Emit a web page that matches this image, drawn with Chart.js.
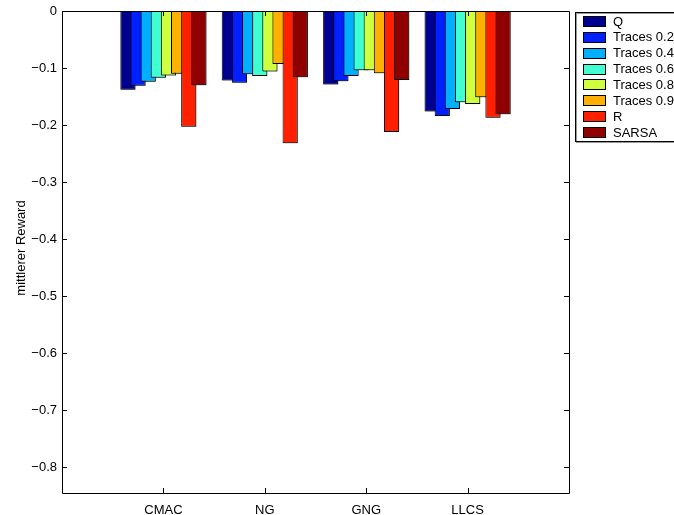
<!DOCTYPE html>
<html>
<head>
<meta charset="utf-8">
<script src="https://cdn.jsdelivr.net/npm/chart.js@4/dist/chart.umd.min.js"></script>
<style>
  html, body { margin: 0; padding: 0; background: #fff; overflow: hidden; }
  #chart { display: block; }
</style>
</head>
<body>
<canvas id="chart" width="674" height="515" style="width:674px;height:515px"></canvas>
<script>
const categories = ['CMAC', 'NG', 'GNG', 'LLCS'];
const seriesNames = ['Q', 'Traces 0.2', 'Traces 0.4', 'Traces 0.6', 'Traces 0.8', 'Traces 0.9', 'R', 'SARSA'];
const seriesColors = ['#000090', '#0020ff', '#00b0ff', '#40ffd0', '#d0ff40', '#ffb000', '#ff2000', '#900000'];

const qValues       = [-0.138, -0.122, -0.129, -0.176];
const traces02      = [-0.131, -0.126, -0.123, -0.184];
const traces04      = [-0.124, -0.111, -0.114, -0.172];
const traces06      = [-0.117, -0.114, -0.104, -0.160];
const traces08      = [-0.113, -0.106, -0.104, -0.163];
const traces09      = [-0.110, -0.093, -0.109, -0.151];
const rValues       = [-0.203, -0.232, -0.212, -0.187];
const sarsaValues   = [-0.130, -0.116, -0.121, -0.181];

const yTicks = [0, -0.1, -0.2, -0.3, -0.4, -0.5, -0.6, -0.7, -0.8];
const yMin = -0.845;
const yTitle = 'mittlerer Reward';

const allSeries = [qValues, traces02, traces04, traces06, traces08, traces09, rValues, sarsaValues];

// x range runs 0..5 in the original, categories sit at 1..4
const labels = [''].concat(categories, ['']);

const datasets = allSeries.map((vals, i) => ({
  label: seriesNames[i],
  data: [null].concat(vals, [null]),
  backgroundColor: seriesColors[i],
  borderColor: '#000',
  borderWidth: 1,
  borderSkipped: false,
  categoryPercentage: 0.8,
  barPercentage: 1.5
}));

const font = "'Liberation Sans', Arial, Helvetica, sans-serif";

// matlab style frame: box, inward ticks, clipped legend
const matlabFrame = {
  id: 'matlabFrame',
  beforeDatasetsDraw(chart) {
    // draw first series first so later bars overlap earlier ones
    const ctx = chart.ctx;
    const a = chart.chartArea;
    ctx.save();
    ctx.beginPath();
    ctx.rect(a.left, a.top, a.right - a.left, a.bottom - a.top);
    ctx.clip();
    ctx.shadowColor = 'rgba(0,0,0,0.35)';
    ctx.shadowOffsetX = 1;
    ctx.shadowOffsetY = 1;
    chart.getSortedVisibleDatasetMetas().forEach(meta => meta.controller.draw());
    ctx.restore();
    return false;
  },
  afterDraw(chart) {
    const ctx = chart.ctx;
    const a = chart.chartArea;
    const x = chart.scales.x, y = chart.scales.y;
    ctx.save();
    ctx.strokeStyle = '#000';
    ctx.lineWidth = 1;
    ctx.beginPath();
    ctx.rect(Math.round(a.left) + 0.5, Math.round(a.top) + 0.5, Math.round(a.right - a.left), Math.round(a.bottom - a.top));
    ctx.stroke();
    const tl = 5;
    ctx.beginPath();
    yTicks.forEach(v => {
      const py = Math.round(y.getPixelForValue(v)) + 0.5;
      ctx.moveTo(a.left, py); ctx.lineTo(a.left + tl, py);
      ctx.moveTo(a.right, py); ctx.lineTo(a.right - tl, py);
    });
    categories.forEach((c, i) => {
      const px = Math.round(x.getPixelForValue(i + 1)) + 0.5;
      ctx.moveTo(px, a.bottom); ctx.lineTo(px, a.bottom - tl);
      ctx.moveTo(px, a.top); ctx.lineTo(px, a.top + tl);
    });
    ctx.stroke();

    // y axis title
    ctx.save();
    ctx.fillStyle = '#000';
    ctx.font = '13px ' + font;
    ctx.textAlign = 'center';
    ctx.textBaseline = 'alphabetic';
    ctx.translate(25, 248);
    ctx.rotate(-Math.PI / 2);
    ctx.fillText(yTitle, 0, 0);
    ctx.restore();

    // legend
    const lx = 575, ly = 12, rowH = 15.85;
    ctx.fillStyle = '#fff';
    ctx.fillRect(lx, ly, 110, 130);
    ctx.shadowColor = 'rgba(0,0,0,0.4)';
    ctx.shadowOffsetX = 1;
    ctx.shadowOffsetY = 1;
    ctx.strokeRect(lx + 0.5, ly + 0.5, 110, 129);
    ctx.shadowColor = 'transparent';
    ctx.font = '13px ' + font;
    ctx.textBaseline = 'middle';
    chart.data.datasets.forEach((ds, i) => {
      const cy = ly + 9 + i * rowH;
      ctx.fillStyle = ds.backgroundColor;
      ctx.fillRect(583, Math.round(cy - 5), 22, 10);
      ctx.strokeRect(583.5, Math.round(cy - 5) + 0.5, 22, 10);
      ctx.fillStyle = '#000';
      ctx.fillText(ds.label, 613, cy + 1);
    });
    ctx.restore();
  }
};

new Chart(document.getElementById('chart'), {
  type: 'bar',
  data: { labels: labels, datasets: datasets },
  options: {
    responsive: false,
    animation: false,
    devicePixelRatio: 1,
    layout: { padding: { top: 11, right: 105, left: 0, bottom: 0 } },
    plugins: {
      legend: { display: false },
      tooltip: { enabled: false }
    },
    scales: {
      x: {
        offset: false,
        min: 0,
        max: 5,
        grid: { display: false },
        border: { display: false },
        ticks: {
          color: '#000',
          font: { family: font, size: 13 },
          padding: 2,
          maxRotation: 0,
          autoSkip: false
        },
        afterFit(scale) { scale.height = 22; }
      },
      y: {
        min: yMin,
        max: 0,
        grid: { display: false },
        border: { display: false },
        afterBuildTicks(scale) {
          scale.ticks = yTicks.map(v => ({ value: v }));
        },
        ticks: {
          color: '#000',
          font: { family: font, size: 13 },
          padding: -3,
          callback: v => v === 0 ? '0' : String(v.toFixed(1)).replace('-', '\u2212')
        },
        afterFit(scale) { scale.width = 62; }
      }
    }
  },
  plugins: [matlabFrame]
});
</script>
</body>
</html>
